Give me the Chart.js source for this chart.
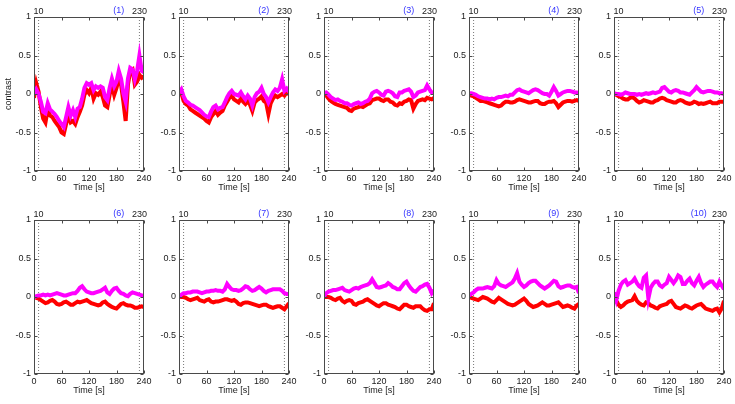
<!DOCTYPE html>
<html>
<head>
<meta charset="utf-8">
<script src="https://cdn.jsdelivr.net/npm/chart.js@4.4.1/dist/chart.umd.min.js"></script>
<style>
  body { margin: 0; background: #fff; }
  #wrap { position: relative; width: 735px; height: 404px; overflow: hidden; }
  .cell { position: absolute; width: 154px; height: 196px; }
</style>
</head>
<body>
<div id="wrap"></div>
<script>
// time axis (s)
const times = [0,5,10,15,20,25,30,35,40,45,50,55,60,65,70,75,80,85,90,95,100,105,110,115,120,
  125,130,135,140,145,150,155,160,165,170,175,180,185,190,195,200,205,210,215,220,225,230,235,240];
const xTicks = [0, 60, 120, 180, 240];
const yTicks = [-1, -0.5, 0, 0.5, 1];
const markers = [10, 230];
const tags = ['(1)','(2)','(3)','(4)','(5)','(6)','(7)','(8)','(9)','(10)'];

// contrast per panel, red and magenta traces
const red1 = [-0.05,0.14,0.03,-0.17,-0.32,-0.37,-0.2,-0.28,-0.3,-0.35,-0.39,-0.43,-0.5,-0.52,-0.39,-0.28,-0.37,-0.35,-0.39,-0.3,-0.23,-0.15,-0.01,0.05,0.01,0.08,-0.06,0.01,-0.01,0.03,-0.04,-0.15,-0.17,-0.01,0.12,-0.01,0.08,0.2,0.12,-0.1,-0.35,0.12,0.3,0.32,0.12,0.16,0.25,0.21,0.23];
const mag1 = [0.0,0.06,0.0,-0.1,-0.23,-0.25,-0.12,-0.2,-0.23,-0.26,-0.3,-0.35,-0.39,-0.43,-0.3,-0.17,-0.28,-0.21,-0.3,-0.19,-0.17,-0.06,0.08,0.14,0.12,0.14,0.05,0.1,0.08,0.1,0.08,-0.04,-0.08,0.08,0.2,0.1,0.16,0.3,0.2,0.01,-0.1,0.2,0.34,0.32,0.19,0.3,0.5,0.3,0.28];
const red2 = [-0.02,0.02,-0.09,-0.13,-0.15,-0.2,-0.22,-0.24,-0.26,-0.28,-0.3,-0.32,-0.35,-0.37,-0.3,-0.26,-0.22,-0.27,-0.24,-0.22,-0.15,-0.1,-0.05,-0.02,-0.07,-0.09,-0.11,-0.06,-0.1,-0.13,-0.09,-0.14,-0.22,-0.11,-0.08,-0.06,-0.03,-0.09,-0.11,-0.26,-0.12,-0.06,-0.02,-0.04,-0.02,0.0,-0.02,0.02,0.0];
const mag2 = [0.02,0.06,-0.03,-0.09,-0.11,-0.14,-0.15,-0.17,-0.19,-0.21,-0.24,-0.27,-0.29,-0.3,-0.23,-0.17,-0.15,-0.2,-0.18,-0.17,-0.11,-0.04,0.01,0.04,0.0,-0.01,-0.02,0.02,-0.03,-0.07,-0.02,-0.06,-0.15,-0.04,0.01,0.03,0.08,0.0,-0.04,-0.11,-0.04,0.02,0.06,0.04,0.08,0.19,0.04,0.07,0.03];
const red3 = [-0.01,-0.02,-0.06,-0.09,-0.11,-0.13,-0.14,-0.15,-0.16,-0.17,-0.18,-0.21,-0.22,-0.19,-0.18,-0.17,-0.16,-0.17,-0.15,-0.13,-0.12,-0.08,-0.07,-0.06,-0.06,-0.08,-0.09,-0.07,-0.07,-0.1,-0.11,-0.14,-0.15,-0.12,-0.13,-0.1,-0.09,-0.07,-0.08,-0.19,-0.13,-0.09,-0.08,-0.07,-0.08,-0.05,-0.06,-0.07,-0.05];
const mag3 = [0.01,0.02,-0.01,-0.04,-0.06,-0.08,-0.07,-0.09,-0.1,-0.12,-0.12,-0.14,-0.15,-0.13,-0.12,-0.11,-0.13,-0.12,-0.1,-0.09,-0.06,0.01,0.03,0.04,0.02,-0.01,-0.02,0.03,0.04,0.03,0.01,-0.03,-0.04,0.02,0.02,0.04,0.05,0.06,0.03,-0.04,-0.02,0.02,0.03,0.04,0.05,0.11,0.06,0.02,0.01];
const red4 = [-0.01,-0.02,-0.03,-0.05,-0.07,-0.09,-0.09,-0.1,-0.11,-0.12,-0.13,-0.14,-0.15,-0.16,-0.15,-0.12,-0.1,-0.1,-0.11,-0.11,-0.1,-0.08,-0.07,-0.08,-0.09,-0.1,-0.11,-0.11,-0.1,-0.09,-0.09,-0.12,-0.13,-0.13,-0.11,-0.1,-0.1,-0.09,-0.12,-0.17,-0.14,-0.11,-0.1,-0.09,-0.09,-0.1,-0.09,-0.08,-0.09];
const mag4 = [0.01,0.01,0.0,-0.01,-0.03,-0.04,-0.05,-0.06,-0.06,-0.07,-0.06,-0.07,-0.05,-0.04,-0.04,-0.03,-0.02,-0.03,-0.01,-0.01,0.02,0.05,0.06,0.04,0.03,0.02,0.01,0.03,0.05,0.06,0.05,0.03,0.01,0.0,0.0,-0.02,0.03,0.09,0.04,-0.02,0.0,0.02,0.03,0.04,0.04,0.03,0.02,0.02,0.01];
const red5 = [0.0,-0.01,-0.03,-0.04,-0.06,-0.07,-0.07,-0.05,-0.04,-0.06,-0.09,-0.11,-0.1,-0.08,-0.09,-0.1,-0.11,-0.11,-0.09,-0.08,-0.06,-0.05,-0.06,-0.08,-0.09,-0.1,-0.11,-0.11,-0.09,-0.08,-0.09,-0.11,-0.12,-0.13,-0.12,-0.1,-0.11,-0.13,-0.12,-0.13,-0.12,-0.11,-0.1,-0.12,-0.12,-0.12,-0.1,-0.1,-0.1];
const mag5 = [0.01,0.0,0.0,-0.01,0.0,0.02,0.01,0.0,0.0,0.0,-0.01,0.0,-0.01,0.0,0.01,0.0,0.01,0.02,0.01,0.02,0.03,0.08,0.09,0.06,0.03,0.02,0.04,0.05,0.04,0.02,0.02,0.01,0.0,-0.01,0.02,0.05,0.09,0.06,0.03,0.02,0.03,0.04,0.04,0.03,0.02,0.02,0.01,0.01,0.0];
const red6 = [0.0,-0.01,-0.02,-0.04,-0.06,-0.08,-0.07,-0.05,-0.04,-0.06,-0.09,-0.1,-0.09,-0.07,-0.06,-0.08,-0.1,-0.1,-0.08,-0.06,-0.07,-0.06,-0.05,-0.04,-0.06,-0.08,-0.09,-0.1,-0.11,-0.1,-0.07,-0.06,-0.09,-0.11,-0.13,-0.14,-0.15,-0.12,-0.09,-0.08,-0.1,-0.11,-0.11,-0.12,-0.14,-0.14,-0.13,-0.12,-0.13];
const mag6 = [0.0,0.01,0.02,0.02,0.03,0.02,0.03,0.02,0.03,0.04,0.05,0.04,0.03,0.02,0.02,0.03,0.04,0.05,0.05,0.08,0.12,0.14,0.1,0.07,0.06,0.05,0.05,0.06,0.07,0.08,0.1,0.12,0.06,0.04,0.08,0.11,0.12,0.08,0.05,0.04,0.02,0.01,0.04,0.06,0.05,0.04,0.03,0.02,0.01];
const red7 = [0.0,0.0,0.0,-0.01,-0.03,-0.04,-0.03,-0.02,-0.01,-0.04,-0.05,-0.06,-0.04,-0.03,-0.06,-0.07,-0.06,-0.06,-0.05,-0.04,-0.03,-0.03,-0.04,-0.05,-0.04,-0.06,-0.09,-0.1,-0.08,-0.07,-0.07,-0.08,-0.09,-0.1,-0.11,-0.12,-0.11,-0.1,-0.1,-0.12,-0.13,-0.14,-0.13,-0.12,-0.12,-0.14,-0.16,-0.12,-0.08];
const mag7 = [0.0,0.03,0.05,0.05,0.06,0.06,0.07,0.07,0.07,0.06,0.05,0.06,0.07,0.07,0.08,0.08,0.09,0.08,0.08,0.07,0.1,0.17,0.13,0.1,0.09,0.09,0.08,0.09,0.11,0.14,0.13,0.1,0.08,0.09,0.11,0.13,0.11,0.08,0.06,0.08,0.09,0.1,0.1,0.1,0.1,0.08,0.05,0.04,0.04];
const red8 = [0.0,0.0,0.0,-0.01,-0.03,-0.04,-0.02,-0.01,-0.05,-0.07,-0.05,-0.04,-0.05,-0.09,-0.1,-0.08,-0.07,-0.06,-0.04,-0.03,-0.05,-0.07,-0.09,-0.11,-0.12,-0.1,-0.08,-0.08,-0.1,-0.11,-0.12,-0.13,-0.15,-0.16,-0.13,-0.1,-0.1,-0.12,-0.13,-0.14,-0.12,-0.12,-0.12,-0.15,-0.17,-0.18,-0.16,-0.16,-0.08];
const mag8 = [0.01,0.05,0.07,0.08,0.09,0.09,0.1,0.11,0.12,0.09,0.08,0.07,0.09,0.11,0.12,0.11,0.13,0.14,0.15,0.16,0.18,0.23,0.18,0.13,0.12,0.13,0.14,0.15,0.18,0.16,0.13,0.12,0.1,0.1,0.14,0.18,0.2,0.15,0.11,0.08,0.07,0.1,0.13,0.14,0.16,0.17,0.12,0.05,0.09];
const red9 = [0.0,-0.01,-0.02,-0.03,-0.04,-0.02,0.0,-0.01,-0.02,-0.04,-0.06,-0.07,-0.04,-0.01,-0.03,-0.05,-0.07,-0.09,-0.1,-0.11,-0.1,-0.08,-0.06,-0.04,-0.02,-0.05,-0.09,-0.11,-0.13,-0.12,-0.11,-0.09,-0.07,-0.09,-0.11,-0.11,-0.1,-0.09,-0.08,-0.07,-0.1,-0.13,-0.12,-0.11,-0.12,-0.14,-0.15,-0.11,-0.09];
const mag9 = [0.02,0.04,0.06,0.09,0.11,0.11,0.11,0.12,0.13,0.12,0.11,0.14,0.22,0.17,0.15,0.14,0.13,0.15,0.17,0.19,0.24,0.31,0.2,0.16,0.13,0.15,0.18,0.2,0.21,0.21,0.18,0.15,0.13,0.11,0.13,0.15,0.18,0.21,0.2,0.14,0.12,0.13,0.14,0.15,0.15,0.13,0.12,0.13,0.05];
const red10 = [0.0,-0.05,-0.1,-0.13,-0.11,-0.08,-0.06,-0.05,-0.04,0.01,-0.05,-0.08,-0.1,-0.11,-0.07,-0.08,-0.11,-0.12,-0.14,-0.15,-0.12,-0.11,-0.1,-0.09,-0.06,-0.05,-0.09,-0.13,-0.14,-0.15,-0.13,-0.11,-0.12,-0.14,-0.15,-0.13,-0.11,-0.1,-0.09,-0.12,-0.15,-0.16,-0.17,-0.18,-0.16,-0.15,-0.2,-0.15,-0.05];
const mag10 = [0.06,-0.04,0.08,0.16,0.2,0.22,0.16,0.18,0.2,0.24,0.18,0.14,0.12,0.25,0.28,-0.02,0.12,0.17,0.2,0.2,0.15,0.13,0.16,0.18,0.26,0.22,0.18,0.22,0.28,0.26,0.17,0.17,0.21,0.24,0.18,0.15,0.21,0.26,0.18,0.13,0.16,0.18,0.2,0.2,0.16,0.13,0.2,0.15,0.1];

const reds = [red1, red2, red3, red4, red5, red6, red7, red8, red9, red10];
const mags = [mag1, mag2, mag3, mag4, mag5, mag6, mag7, mag8, mag9, mag10];

const FONT = { family: '"Liberation Sans", Arial, sans-serif', size: 9 };
const INK = '#1a1a1a';

// axes box with inward ticks, marker labels on top, blue panel number
const frame = {
  id: 'frame',
  afterDatasetsDraw(chart, args, opts) {
    const { ctx, chartArea: a, scales } = chart;
    ctx.save();
    ctx.strokeStyle = '#4a4a4a';
    ctx.lineWidth = 1;
    const l = Math.round(a.left) + 0.5, r = Math.round(a.right) - 0.5;
    const t = Math.round(a.top) + 0.5, b = Math.round(a.bottom) - 0.5;
    ctx.strokeRect(l, t, r - l, b - t);
    ctx.beginPath();
    scales.x.ticks.forEach(tk => {
      const px = Math.round(scales.x.getPixelForValue(tk.value)) + 0.5;
      ctx.moveTo(px, b); ctx.lineTo(px, b - 3);
      ctx.moveTo(px, t); ctx.lineTo(px, t + 3);
    });
    scales.y.ticks.forEach(tk => {
      const py = Math.round(scales.y.getPixelForValue(tk.value)) + 0.5;
      ctx.moveTo(l, py); ctx.lineTo(l + 3, py);
      ctx.moveTo(r, py); ctx.lineTo(r - 3, py);
    });
    ctx.stroke();
    ctx.font = `${FONT.size}px ${FONT.family}`;
    ctx.textAlign = 'center';
    ctx.textBaseline = 'bottom';
    ctx.fillStyle = INK;
    markers.forEach(m => ctx.fillText(String(m), scales.x.getPixelForValue(m), a.top - 1));
    ctx.fillStyle = '#3535ff';
    ctx.fillText(opts.tag, scales.x.getPixelForValue(opts.at), a.top - 2);
    ctx.restore();
  }
};

const wrap = document.getElementById('wrap');
const pts = vals => vals.map((v, i) => ({ x: times[i], y: v }));

tags.forEach((tag, i) => {
  const cell = document.createElement('div');
  cell.className = 'cell';
  cell.style.left = (i % 5) * 145 + 'px';
  cell.style.top = Math.floor(i / 5) * 203 + 'px';
  const cv = document.createElement('canvas');
  cell.appendChild(cv);
  wrap.appendChild(cell);

  const guideSets = markers.map(m => ({
    data: [{ x: m, y: yTicks[0] }, { x: m, y: yTicks[yTicks.length - 1] }],
    borderColor: '#555', borderWidth: 0.8, borderDash: [1, 2],
    pointRadius: 0, order: 2
  }));

  new Chart(cv, {
    type: 'line',
    data: {
      datasets: [
        { data: pts(mags[i]), borderColor: '#ff00ff', borderWidth: 4, pointRadius: 0, order: 0 },
        { data: pts(reds[i]), borderColor: '#ff0000', borderWidth: 4, pointRadius: 0, order: 1 },
        ...guideSets
      ]
    },
    options: {
      animation: false,
      responsive: true,
      maintainAspectRatio: false,
      events: [],
      layout: { padding: { left: 0, right: 10, top: 17, bottom: 3 } },
      plugins: {
        legend: { display: false },
        tooltip: { enabled: false },
        frame: { tag: tag, at: 185 }
      },
      scales: {
        x: {
          type: 'linear', min: 0, max: 240,
          afterBuildTicks: s => { s.ticks = xTicks.map(v => ({ value: v })); },
          ticks: { font: FONT, color: INK, padding: 2, maxRotation: 0, callback: v => String(v) },
          grid: { display: false, drawTicks: false, tickLength: 0 },
          border: { display: false },
          title: { display: true, text: 'Time [s]', font: FONT, color: INK, padding: 0 },
          afterFit: s => { s.height = 22; }
        },
        y: {
          min: -1, max: 1,
          afterBuildTicks: s => { s.ticks = yTicks.map(v => ({ value: v })); },
          ticks: { font: FONT, color: INK, padding: 3, callback: v => String(v) },
          grid: { display: false, drawTicks: false, tickLength: 0 },
          border: { display: false },
          title: { display: i === 0, text: 'contrast', font: FONT, color: INK, padding: { top: 3, bottom: 0 } },
          afterFit: s => { s.width = 34; }
        }
      }
    },
    plugins: [frame]
  });
});
</script>
</body>
</html>
